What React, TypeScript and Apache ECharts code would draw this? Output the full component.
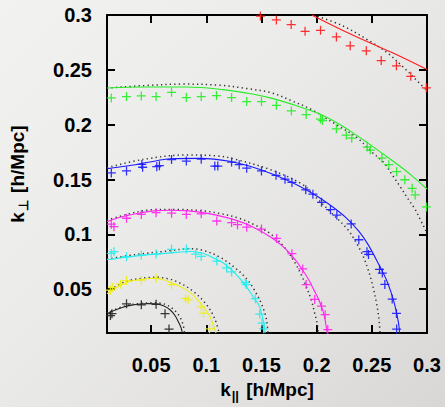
import React, { useEffect, useRef } from "react";
import * as echarts from "echarts";

const xTicks = [0.05, 0.1, 0.15, 0.2, 0.25, 0.3];
const yTicks = [0.05, 0.1, 0.15, 0.2, 0.25, 0.3];

// data points (k_par, k_perp)
const redPoints = [[0.149, 0.299], [0.1635, 0.2955], [0.1769, 0.2913], [0.1895, 0.2851], [0.2035, 0.286], [0.2179, 0.28], [0.2304, 0.2719], [0.245, 0.2674], [0.2585, 0.2585], [0.2723, 0.2537], [0.2853, 0.2441], [0.2994, 0.2336]];
const greenPoints = [[0.0139, 0.2244], [0.0277, 0.2256], [0.0411, 0.2262], [0.0545, 0.2256], [0.0685, 0.2295], [0.0819, 0.2247], [0.0954, 0.2256], [0.1092, 0.2265], [0.1229, 0.2247], [0.1366, 0.2211], [0.15, 0.2211], [0.1635, 0.2177], [0.1771, 0.2125], [0.1905, 0.2092], [0.2035, 0.2051], [0.2053, 0.2038], [0.2179, 0.1962], [0.2268, 0.1904], [0.2318, 0.1877], [0.2459, 0.1796], [0.2486, 0.1769], [0.2591, 0.1695], [0.2654, 0.1635], [0.2725, 0.1572], [0.2799, 0.1498], [0.2866, 0.142], [0.2893, 0.136], [0.2995, 0.125]];
const bluePoints = [[0.0139, 0.156], [0.0277, 0.1578], [0.0416, 0.1638], [0.0423, 0.1612], [0.0551, 0.1617], [0.0575, 0.1626], [0.0685, 0.1682], [0.0819, 0.1668], [0.0954, 0.1686], [0.1077, 0.1623], [0.1104, 0.1623], [0.1229, 0.1659], [0.1298, 0.1635], [0.1366, 0.1603], [0.15, 0.1578], [0.1632, 0.1539], [0.1713, 0.1503], [0.1776, 0.1474], [0.1901, 0.1406], [0.1966, 0.1366], [0.2044, 0.1292], [0.2125, 0.1225], [0.2183, 0.1175], [0.2313, 0.1095], [0.2382, 0.0951], [0.2456, 0.0842], [0.247, 0.0817], [0.257, 0.0682], [0.2595, 0.0647], [0.2618, 0.0544], [0.2685, 0.041], [0.2723, 0.0279], [0.2725, 0.0137]];
const magentaPoints = [[0.0139, 0.1093], [0.0163, 0.107], [0.0277, 0.1147], [0.0411, 0.1182], [0.0545, 0.1198], [0.0685, 0.1193], [0.0819, 0.1182], [0.0954, 0.1187], [0.1095, 0.1122], [0.1229, 0.1108], [0.1283, 0.1088], [0.1366, 0.1066], [0.15, 0.1048], [0.1637, 0.0963], [0.1776, 0.0824], [0.1874, 0.0685], [0.1905, 0.0542], [0.1982, 0.0407], [0.2044, 0.0345], [0.2077, 0.0268], [0.2101, 0.0132]];
const cyanPoints = [[0.0139, 0.0826], [0.0163, 0.0842], [0.0277, 0.0797], [0.0411, 0.0811], [0.0545, 0.0821], [0.0685, 0.0864], [0.0819, 0.0867], [0.0904, 0.0819], [0.0954, 0.0799], [0.1095, 0.0757], [0.1184, 0.0694], [0.1229, 0.0658], [0.1353, 0.056], [0.1363, 0.0542], [0.1444, 0.0414], [0.1484, 0.0273], [0.1504, 0.0192], [0.152, 0.0139]];
const yellowPoints = [[0.0131, 0.0492], [0.0149, 0.0515], [0.0223, 0.0546], [0.0277, 0.0579], [0.0411, 0.0582], [0.0545, 0.06], [0.0685, 0.0542], [0.0812, 0.0416], [0.0835, 0.0403], [0.0954, 0.0338], [0.0975, 0.0282], [0.1029, 0.0139]];
const blackPoints = [[0.0131, 0.026], [0.0145, 0.0277], [0.0277, 0.0367], [0.0411, 0.0358], [0.0545, 0.0363], [0.0626, 0.0277], [0.0662, 0.0137]];

// solid model curves
const redModel = [[0.1955, 0.3], [0.2224, 0.2866], [0.2492, 0.2742], [0.275, 0.2627], [0.3, 0.2504]];
const greenModel = [[0.01, 0.2334], [0.0432, 0.2343], [0.0817, 0.2343], [0.1148, 0.232], [0.1417, 0.228], [0.1596, 0.224], [0.182, 0.2172], [0.2017, 0.2101], [0.2179, 0.202], [0.2313, 0.1937], [0.2465, 0.1832], [0.2611, 0.1727], [0.2743, 0.163], [0.2851, 0.1545], [0.3, 0.1414]];
const blueModel = [[0.01, 0.1599], [0.0297, 0.1626], [0.0476, 0.1657], [0.0673, 0.1689], [0.0942, 0.1693], [0.1211, 0.1666], [0.148, 0.1594], [0.1749, 0.1487], [0.1982, 0.1362], [0.2134, 0.1259], [0.2268, 0.1151], [0.2385, 0.1026], [0.2465, 0.0909], [0.2555, 0.0742], [0.2642, 0.0562], [0.2701, 0.0383], [0.274, 0.0204], [0.2752, 0.01]];
const magentaModel = [[0.01, 0.1115], [0.0234, 0.116], [0.0371, 0.1191], [0.0521, 0.1214], [0.0673, 0.122], [0.0835, 0.1214], [0.0969, 0.1198], [0.1121, 0.1169], [0.1265, 0.113], [0.1417, 0.107], [0.1596, 0.0967], [0.1713, 0.0873], [0.1802, 0.0775], [0.1865, 0.0685], [0.1928, 0.0587], [0.1973, 0.0497], [0.2015, 0.0414], [0.2049, 0.0327], [0.2074, 0.0234], [0.2095, 0.01]];
const cyanModel = [[0.01, 0.0768], [0.0369, 0.0804], [0.0673, 0.0831], [0.0862, 0.0844], [0.0969, 0.0828], [0.1059, 0.0788], [0.1148, 0.0743], [0.1265, 0.064], [0.1357, 0.0533], [0.1417, 0.0443], [0.1477, 0.0354], [0.1507, 0.0255], [0.1525, 0.0174], [0.1534, 0.01]];
const yellowModel = [[0.01, 0.0458], [0.0163, 0.0501], [0.0223, 0.0539], [0.0297, 0.0569], [0.0371, 0.0584], [0.0521, 0.06], [0.0611, 0.0587], [0.0671, 0.0562], [0.0745, 0.0533], [0.0819, 0.0492], [0.0879, 0.0448], [0.094, 0.0383], [0.0987, 0.0322], [0.1029, 0.0255], [0.1059, 0.0183], [0.1088, 0.01]];
const blackModel = [[0.01, 0.0277], [0.0181, 0.0313], [0.0252, 0.0338], [0.0324, 0.0355], [0.0402, 0.0365], [0.0476, 0.0369], [0.0551, 0.0365], [0.0611, 0.0349], [0.0671, 0.0313], [0.0716, 0.026], [0.075, 0.0197], [0.0772, 0.0147], [0.0784, 0.01]];

// dotted comparison curves
const redDotted = [[0.197, 0.3], [0.2224, 0.2907], [0.2463, 0.2773], [0.2642, 0.2654], [0.2791, 0.2519], [0.288, 0.243], [0.3, 0.231]];
const greenDotted = [[0.01, 0.2334], [0.0432, 0.2356], [0.079, 0.237], [0.1104, 0.2361], [0.1372, 0.2329], [0.1596, 0.2289], [0.1776, 0.2217], [0.1955, 0.2137], [0.2161, 0.2011], [0.2367, 0.1881], [0.2492, 0.1758], [0.2609, 0.1653], [0.2689, 0.1536], [0.2761, 0.1429], [0.2824, 0.133], [0.2895, 0.1223], [0.294, 0.1133], [0.2985, 0.1043], [0.3, 0.101]];
const blueDotted = [[0.01, 0.1608], [0.0432, 0.1684], [0.0817, 0.1724], [0.1104, 0.1715], [0.1265, 0.1684], [0.157, 0.1594], [0.1865, 0.146], [0.1982, 0.1348], [0.2134, 0.1196], [0.2284, 0.1041], [0.2367, 0.0909], [0.2421, 0.0802], [0.2465, 0.0682], [0.2508, 0.0533], [0.2546, 0.0354], [0.2567, 0.0204], [0.2573, 0.01]];
const magentaDotted = [[0.01, 0.1129], [0.0297, 0.1187], [0.0521, 0.1225], [0.0745, 0.1227], [0.0969, 0.1214], [0.1121, 0.119], [0.1283, 0.1151], [0.1417, 0.1097], [0.1596, 0.0994], [0.1715, 0.0873], [0.1805, 0.0739], [0.1865, 0.0622], [0.191, 0.0515], [0.1955, 0.0389], [0.1982, 0.0282], [0.2004, 0.0192], [0.2015, 0.01]];
const cyanDotted = [[0.01, 0.0775], [0.0369, 0.0817], [0.0673, 0.0851], [0.0835, 0.0869], [0.0969, 0.0855], [0.1121, 0.0793], [0.1267, 0.069], [0.1372, 0.0587], [0.1444, 0.0479], [0.1498, 0.0371], [0.1536, 0.0264], [0.1552, 0.0174], [0.1559, 0.01]];
const yellowDotted = [[0.01, 0.047], [0.0252, 0.0564], [0.0432, 0.0602], [0.0551, 0.0609], [0.0656, 0.0595], [0.0745, 0.0564], [0.0879, 0.0483], [0.0999, 0.0363], [0.1074, 0.0237], [0.1117, 0.01]];
const blackDotted = [[0.01, 0.0282], [0.0252, 0.0345], [0.0405, 0.0371], [0.0548, 0.0376], [0.0638, 0.0358], [0.0716, 0.0304], [0.0763, 0.0242], [0.079, 0.0174], [0.0803, 0.01]];

const groups = [
  { name: "red", color: "#ff1a1a", pts: redPoints, model: redModel, dotted: redDotted },
  { name: "green", color: "#22ee22", pts: greenPoints, model: greenModel, dotted: greenDotted },
  { name: "blue", color: "#1a1aff", pts: bluePoints, model: blueModel, dotted: blueDotted },
  { name: "magenta", color: "#ff22ee", pts: magentaPoints, model: magentaModel, dotted: magentaDotted },
  { name: "cyan", color: "#22eeee", pts: cyanPoints, model: cyanModel, dotted: cyanDotted },
  { name: "yellow", color: "#eeee11", pts: yellowPoints, model: yellowModel, dotted: yellowDotted },
  { name: "black", color: "#222222", pts: blackPoints, model: blackModel, dotted: blackDotted },
];

const FONT = "'Liberation Sans', Arial, Helvetica, sans-serif";
const PLUS = "path://M-1,-0.14H1V0.14H-1Z M-0.14,-1H0.14V1H-0.14Z";

export default function App() {
  const ref = useRef<HTMLDivElement>(null);
  useEffect(() => {
    if (!ref.current) return;
    const chart = echarts.init(ref.current, null, { renderer: "svg" });
    const axisCommon = {
      type: "value" as const,
      min: 0.01,
      max: 0.3,
      splitLine: { show: false },
      axisLine: { show: true, onZero: false, lineStyle: { color: "#000", width: 2 } },
    };
    const tickStyle = { show: true, inside: true, length: 8, lineStyle: { color: "#000", width: 2 } };
    const labelStyle = {
      fontSize: 20,
      fontWeight: "bold" as const,
      color: "#000",
      fontFamily: FONT,
      formatter: (v: number) => String(v),
    };
    const nameStyle = {
      fontSize: 19,
      fontWeight: "bold" as const,
      color: "#000",
      fontFamily: FONT,
      rich: {
        sub: { fontSize: 13, fontWeight: "bold", fontFamily: FONT, color: "#000", padding: [12, 2, 0, 1] },
        t: { fontSize: 19, fontWeight: "bold", fontFamily: FONT, color: "#000" },
      },
    };
    const series: any[] = [];
    groups.forEach((g) => {
      series.push({
        type: "line",
        name: g.name + " dotted",
        data: g.dotted,
        smooth: 0.35,
        showSymbol: false,
        clip: true,
        lineStyle: { color: "#333", width: 1.5, type: [1.3, 3.2] },
        z: 2,
      });
      series.push({
        type: "line",
        name: g.name + " model",
        data: g.model,
        smooth: 0.35,
        showSymbol: false,
        clip: true,
        lineStyle: { color: g.color, width: 1.1 },
        z: 3,
      });
      series.push({
        type: "scatter",
        name: g.name + " data",
        data: g.pts,
        symbol: PLUS,
        symbolSize: 9,
        clip: false,
        itemStyle: { color: g.color, opacity: 0.9 },
        z: 4,
      });
    });
    chart.setOption({
      animation: false,
      grid: { left: 103, right: 18, top: 15, bottom: 69, containLabel: false },
      xAxis: [
        {
          ...axisCommon,
          position: "bottom",
          axisTick: { ...tickStyle, customValues: xTicks },
          axisLabel: { ...labelStyle, margin: 22, customValues: xTicks, showMaxLabel: true, showMinLabel: true },
          name: "{t|k}{sub|||} {t|[h/Mpc]}",
          nameLocation: "middle",
          nameGap: 42,
          nameTextStyle: nameStyle,
        },
        {
          ...axisCommon,
          position: "top",
          axisTick: { ...tickStyle, customValues: xTicks },
          axisLabel: { show: false },
        },
      ],
      yAxis: [
        {
          ...axisCommon,
          position: "left",
          axisTick: { ...tickStyle, customValues: yTicks },
          axisLabel: { ...labelStyle, margin: 15, customValues: yTicks, showMaxLabel: true, showMinLabel: true },
          name: "{t|k}{sub|⊥} {t|[h/Mpc]}",
          nameLocation: "middle",
          nameRotate: 90,
          nameGap: 77,
          nameTextStyle: nameStyle,
        },
        {
          ...axisCommon,
          position: "right",
          axisTick: { ...tickStyle, customValues: yTicks },
          axisLabel: { show: false },
        },
      ],
      series,
    });
    return () => chart.dispose();
  }, []);
  return (
    <div
      ref={ref}
      style={{
        position: "fixed",
        left: 0,
        top: 0,
        width: 445,
        height: 407,
        background: "linear-gradient(135deg, #f2f2f1 0%, #ebebea 40%, #e2e1df 75%, #d8d7d5 100%)",
      }}
    />
  );
}
